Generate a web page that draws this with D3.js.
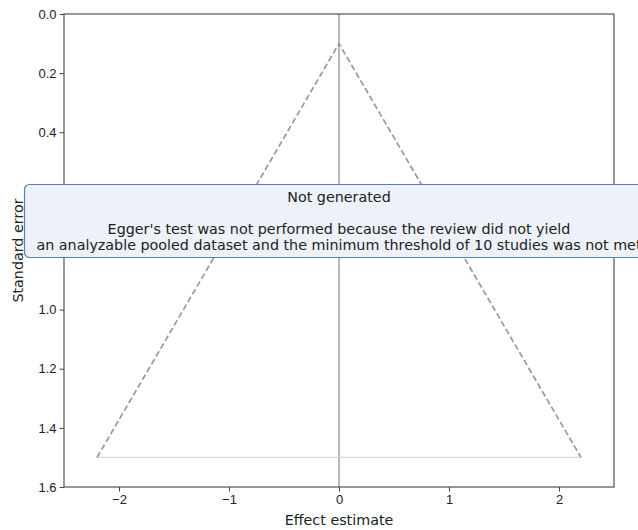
<!DOCTYPE html>
<html>
<head>
  <meta charset="utf-8">
  <style>
    body { margin: 0; background: #fff; }
    svg { font-family: "DejaVu Sans", sans-serif; }
    .axis text { font-size: 13px; fill: #222; }
    .axis path, .axis line { stroke: #444; }
  </style>
  <script src="https://d3js.org/d3.v7.min.js"></script>
</head>
<body>
  <svg></svg>
  <script>
    // funnel outline (effect estimate vs standard error)
    var funnelX = [-2.2, 0, 2.2]
    var funnelSE = [1.5, 0.1, 1.5]
    var baseSE = 1.5
    var xTicks = [-2, -1, 0, 1, 2]
    var yTicks = [0, 0.2, 0.4, 0.6, 0.8, 1.0, 1.2, 1.4, 1.6]
    var noteLines = ["Not generated", "", "Egger's test was not performed because the review did not yield",
      "an analyzable pooled dataset and the minimum threshold of 10 studies was not met"]

    var w = 638, h = 530
    var padL = 64, padR = 614, padT = 14, padB = 487

    var svg = d3.select("svg").attr("width", w).attr("height", h)

    var x = d3.scaleLinear().domain([-2.5, 2.5]).range([padL, padR])
    var y = d3.scaleLinear().domain([0, 1.6]).range([padT, padB])

    // title (mostly off the top of the picture)
    svg.append("text")
      .attr("x", x(0)).attr("y", -4.5)
      .attr("text-anchor", "middle")
      .style("font-size", "18px").style("font-weight", "bold").style("fill", "#222")
      .text("Figure 4. Funnel plot for publication bias: Egger's test not applicable")

    // vertical line at zero
    svg.append("line")
      .attr("x1", x(0)).attr("x2", x(0))
      .attr("y1", y(0)).attr("y2", y(1.6))
      .attr("stroke", "#999").attr("stroke-width", 1.4)

    // base of the funnel
    svg.append("line")
      .attr("x1", x(funnelX[0])).attr("x2", x(funnelX[2]))
      .attr("y1", y(baseSE)).attr("y2", y(baseSE))
      .attr("stroke", "#d6d6d6").attr("stroke-width", 1.3)

    // dashed funnel sides
    var line = d3.line().x(function(d, i) { return x(funnelX[i]) }).y(function(d) { return y(d) })
    svg.append("path")
      .datum(funnelSE)
      .attr("d", line)
      .attr("fill", "none")
      .attr("stroke", "#999").attr("stroke-width", 1.7)
      .attr("stroke-dasharray", "6,3")

    // frame
    svg.append("rect")
      .attr("x", padL).attr("y", padT)
      .attr("width", padR - padL).attr("height", padB - padT)
      .attr("fill", "none").attr("stroke", "#444").attr("stroke-width", 1.1)

    svg.append("g")
      .attr("class", "axis")
      .attr("transform", "translate(0," + padB + ")")
      .call(d3.axisBottom(x).tickValues(xTicks).tickSize(4.5).tickPadding(3)
        .tickFormat(function(d) { return d < 0 ? "\u2212" + Math.abs(d) : d }))
      .call(function(g) { g.select(".domain").remove() })

    svg.append("g")
      .attr("class", "axis")
      .attr("transform", "translate(" + padL + ",0)")
      .call(d3.axisLeft(y).tickValues(yTicks).tickSize(4.5).tickPadding(3).tickFormat(d3.format(".1f")))
      .call(function(g) { g.select(".domain").remove() })

    // note box
    svg.append("rect")
      .attr("x", 24.5).attr("y", 184.5)
      .attr("width", 640).attr("height", 73)
      .attr("rx", 5)
      .attr("fill", "#edf1f9").attr("stroke", "#5a7fb0").attr("stroke-width", 1.2)

    svg.append("g").selectAll("text")
      .data(noteLines)
      .enter()
      .append("text")
      .attr("x", x(0))
      .attr("y", function(d, i) { return 202 + i * 16 })
      .attr("text-anchor", "middle")
      .style("font-size", "14.3px").style("fill", "#222")
      .text(function(d) { return d })

    // axis labels
    svg.append("text")
      .attr("x", x(0)).attr("y", 525)
      .attr("text-anchor", "middle")
      .style("font-size", "14.3px").style("fill", "#222")
      .text("Effect estimate")

    svg.append("text")
      .attr("transform", "translate(23," + y(0.8) + ") rotate(-90)")
      .attr("text-anchor", "middle")
      .style("font-size", "14.3px").style("fill", "#222")
      .text("Standard error")
  </script>
</body>
</html>
